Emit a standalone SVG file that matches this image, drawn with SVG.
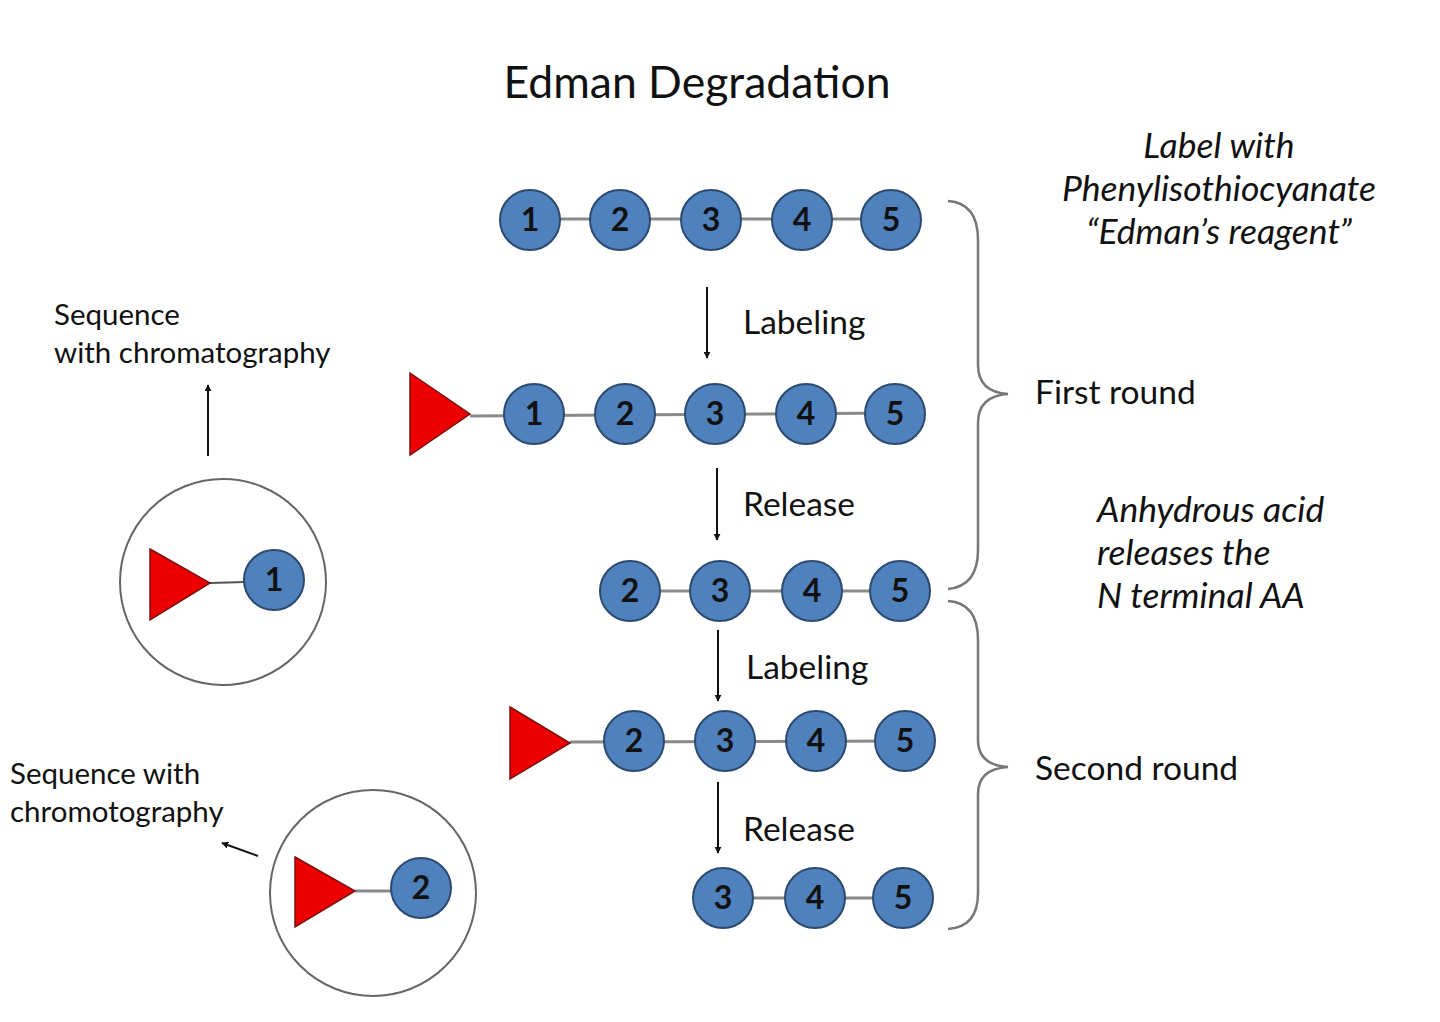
<svg xmlns="http://www.w3.org/2000/svg" width="1440" height="1022" viewBox="0 0 1440 1022">
<defs>
<marker id="ah" viewBox="0 0 10 10" refX="9" refY="5" markerWidth="7" markerHeight="7" orient="auto" markerUnits="userSpaceOnUse">
<path d="M0,0 L10,5 L0,10 z" fill="#111"/>
</marker>
<style>
.aa{fill:#4F81BD;stroke:#2c4a70;stroke-width:2}
.num{font-family:Lato,"Open Sans","Liberation Sans",sans-serif;font-size:32px;font-weight:bold;fill:#111;text-anchor:middle}
.bond{stroke:#8a8a8a;stroke-width:3}
.tri{fill:#ee0000;stroke:#7a1010;stroke-width:1.5}
.lbl{font-family:Lato,"Open Sans","Liberation Sans",sans-serif;font-size:33.5px;fill:#111}
.sm{font-family:Lato,"Open Sans","Liberation Sans",sans-serif;font-size:29.5px;fill:#111}
.it{font-family:Lato,"Open Sans","Liberation Sans",sans-serif;font-size:35.5px;font-style:italic;fill:#111}
.conn{stroke:#111;stroke-width:2;fill:none}
.brace{stroke:#777;stroke-width:2.5;fill:none}
.ring{fill:#fff;stroke:#666;stroke-width:2}
</style>
</defs>
<rect width="1440" height="1022" fill="#fff"/>
<text x="697" y="98" font-family="Lato,'Open Sans','Liberation Sans',sans-serif" font-size="44.5" fill="#111" text-anchor="middle">Edman Degradation</text>

<g id="row1">
<line class="bond" x1="530" y1="219" x2="891" y2="219"/>
<circle class="aa" cx="530" cy="220" r="30"/><text class="num" x="530" y="231">1</text>
<circle class="aa" cx="620" cy="220" r="30"/><text class="num" x="620" y="231">2</text>
<circle class="aa" cx="711" cy="220" r="30"/><text class="num" x="711" y="231">3</text>
<circle class="aa" cx="802" cy="220" r="30"/><text class="num" x="802" y="231">4</text>
<circle class="aa" cx="891" cy="220" r="30"/><text class="num" x="891" y="231">5</text>
</g>

<g id="row2">
<line class="bond" x1="470" y1="416" x2="895" y2="413"/>
<polygon class="tri" points="410,373 470,414 410,455"/>
<circle class="aa" cx="534" cy="414" r="30"/><text class="num" x="534" y="425">1</text>
<circle class="aa" cx="625" cy="414" r="30"/><text class="num" x="625" y="425">2</text>
<circle class="aa" cx="715" cy="414" r="30"/><text class="num" x="715" y="425">3</text>
<circle class="aa" cx="806" cy="414" r="30"/><text class="num" x="806" y="425">4</text>
<circle class="aa" cx="895" cy="414" r="30"/><text class="num" x="895" y="425">5</text>
</g>

<g id="row3">
<line class="bond" x1="630" y1="591" x2="900" y2="591"/>
<circle class="aa" cx="630" cy="591" r="30"/><text class="num" x="630" y="602">2</text>
<circle class="aa" cx="720" cy="591" r="30"/><text class="num" x="720" y="602">3</text>
<circle class="aa" cx="812" cy="591" r="30"/><text class="num" x="812" y="602">4</text>
<circle class="aa" cx="900" cy="591" r="30"/><text class="num" x="900" y="602">5</text>
</g>

<g id="row4">
<line class="bond" x1="570" y1="742" x2="905" y2="741"/>
<polygon class="tri" points="510,707 570,743 510,779"/>
<circle class="aa" cx="634" cy="741" r="30"/><text class="num" x="634" y="752">2</text>
<circle class="aa" cx="725" cy="741" r="30"/><text class="num" x="725" y="752">3</text>
<circle class="aa" cx="816" cy="741" r="30"/><text class="num" x="816" y="752">4</text>
<circle class="aa" cx="905" cy="741" r="30"/><text class="num" x="905" y="752">5</text>
</g>

<g id="row5">
<line class="bond" x1="723" y1="898" x2="903" y2="898"/>
<circle class="aa" cx="723" cy="898" r="30"/><text class="num" x="723" y="909">3</text>
<circle class="aa" cx="815" cy="898" r="30"/><text class="num" x="815" y="909">4</text>
<circle class="aa" cx="903" cy="898" r="30"/><text class="num" x="903" y="909">5</text>
</g>

<g id="product1">
<circle class="ring" cx="223" cy="582" r="103"/>
<line class="bond" x1="210" y1="583" x2="245" y2="582" style="stroke:#555;stroke-width:2"/>
<polygon class="tri" points="150,549 210,583 150,620"/>
<circle class="aa" cx="274" cy="580" r="30"/><text class="num" x="274" y="591">1</text>
</g>

<g id="product2">
<circle class="ring" cx="373" cy="893" r="103"/>
<line class="bond" x1="355" y1="891" x2="392" y2="891"/>
<polygon class="tri" points="295,857 355,891 295,927"/>
<circle class="aa" cx="421" cy="888" r="30"/><text class="num" x="421" y="899">2</text>
</g>

<g id="labels">
<text class="lbl" x="743" y="334">Labeling</text>
<text class="lbl" x="743" y="516">Release</text>
<text class="lbl" x="746" y="679">Labeling</text>
<text class="lbl" x="743" y="841">Release</text>
<text class="lbl" x="1035" y="404">First round</text>
<text class="lbl" x="1035" y="780">Second round</text>
<text class="it" x="1219" y="158" text-anchor="middle">Label with</text>
<text class="it" x="1219" y="201" text-anchor="middle">Phenylisothiocyanate</text>
<text class="it" x="1219" y="244" text-anchor="middle">“Edman’s reagent”</text>
<text class="it" x="1097" y="522">Anhydrous acid</text>
<text class="it" x="1097" y="565">releases the</text>
<text class="it" x="1097" y="608">N terminal AA</text>
<text class="sm" x="54" y="325">Sequence</text>
<text class="sm" x="54" y="363">with chromatography</text>
<text class="sm" x="10" y="784">Sequence with</text>
<text class="sm" x="10" y="822">chromotography</text>
</g>

<g id="connectors">
<line class="conn" x1="707" y1="287" x2="707" y2="358" marker-end="url(#ah)"/>
<line class="conn" x1="717" y1="468" x2="717" y2="540" marker-end="url(#ah)"/>
<line class="conn" x1="718" y1="630" x2="718" y2="701" marker-end="url(#ah)"/>
<line class="conn" x1="718" y1="782" x2="718" y2="853" marker-end="url(#ah)"/>
<line class="conn" x1="208" y1="456" x2="208" y2="385" marker-end="url(#ah)"/>
<line class="conn" x1="258" y1="856" x2="222" y2="843" marker-end="url(#ah)"/>
<path class="brace" d="M948,201 Q978,203 978,240 L978,365 Q978,392 1008,394 Q978,396 978,423 L978,550 Q978,586 948,589"/>
<path class="brace" d="M948,601 Q978,603 978,640 L978,740 Q978,765 1008,767 Q978,769 978,794 L978,893 Q978,927 948,929"/>
</g>
</svg>
